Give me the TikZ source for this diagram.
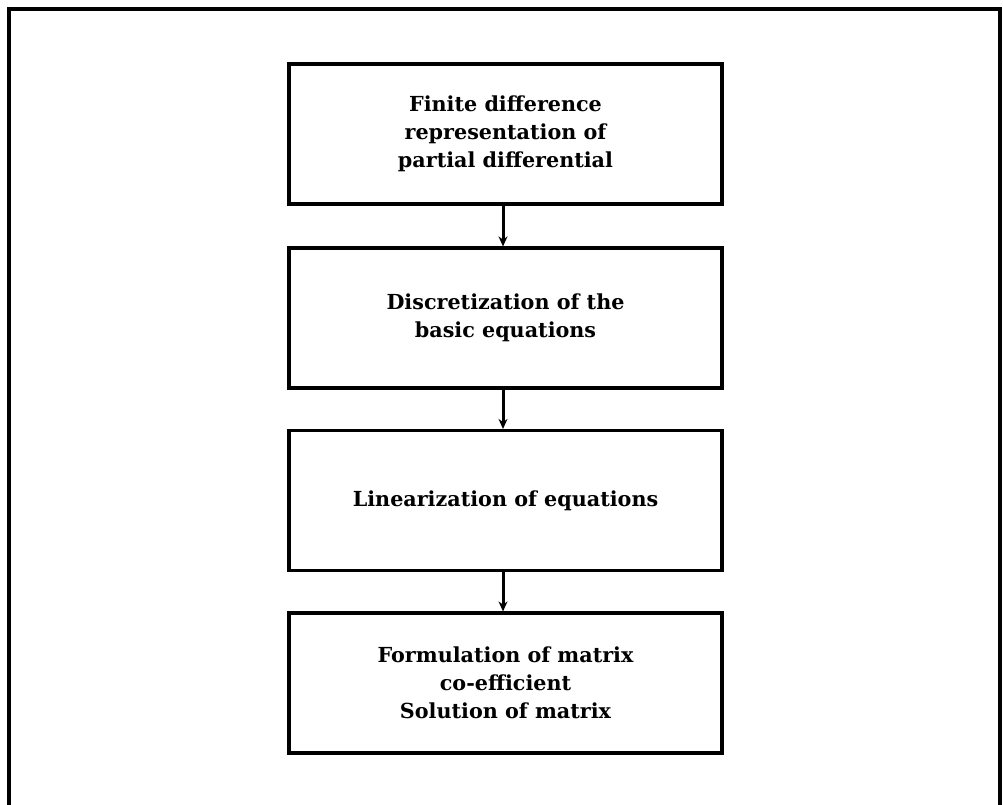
\documentclass[tikz,border=0pt]{standalone}
\usepackage{fontspec}
\setmainfont{DejaVu Serif}
\usetikzlibrary{arrows.meta}
\begin{document}
\begin{tikzpicture}[x=1pt,y=-1pt,
  stepbox/.style={draw=black,line width=3.2pt,minimum width=433pt,minimum height=140pt,
    align=center,inner sep=0pt,font=\fontsize{20.7}{28}\selectfont\bfseries},
  arr/.style={draw=black,line width=3pt,-{Stealth[length=10pt,width=9pt]}},
  frame/.style={draw=black,line width=3.2pt}]
\useasboundingbox (0,0) rectangle (1003,804);
\fill[white] (0,0) rectangle (1003,804);
\draw[frame] (9,806) -- (9,9) -- (1000,9) -- (1000,806);
\node[stepbox] (b1) at (505.5,134) {Finite difference\\representation of\\partial differential};
\node[stepbox] (b2) at (505.5,318) {Discretization of the\\basic equations};
\node[stepbox] (b3) at (505.5,500.5) {Linearization of equations};
\node[stepbox] (b4) at (505.5,683) {Formulation of matrix\\co-efficient\\Solution of matrix};
\draw[arr] ([xshift=-2.5pt]b1.south) -- ([xshift=-2.5pt]b2.north);
\draw[arr] ([xshift=-2.5pt]b2.south) -- ([xshift=-2.5pt]b3.north);
\draw[arr] ([xshift=-2.5pt]b3.south) -- ([xshift=-2.5pt]b4.north);
\end{tikzpicture}
\end{document}
